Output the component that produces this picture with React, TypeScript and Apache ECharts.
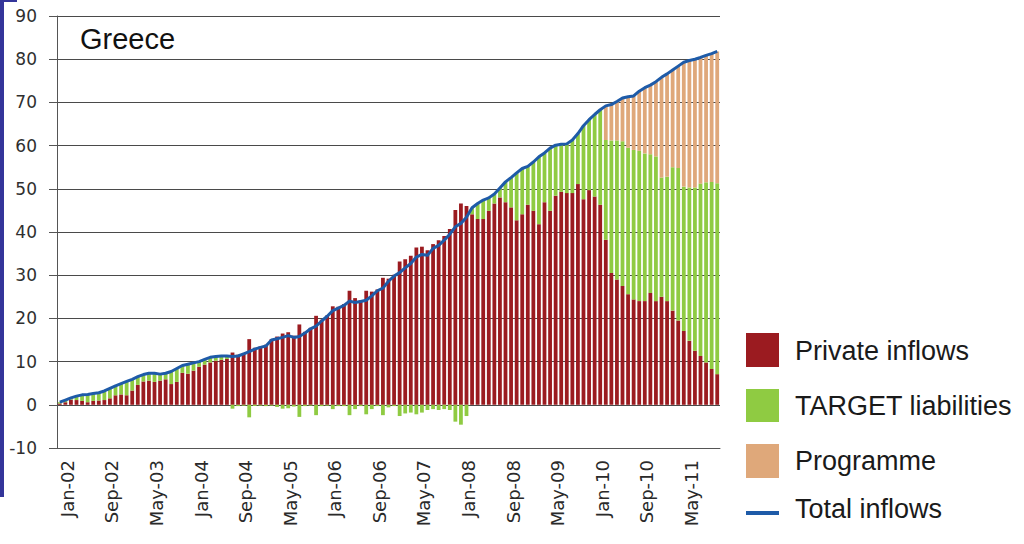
import React, { useEffect, useRef } from "react";
import * as echarts from "echarts";

const MONTH_NAMES = ["Jan", "Feb", "Mar", "Apr", "May", "Jun", "Jul", "Aug", "Sep", "Oct", "Nov", "Dec"];
const YEARS = ["02", "03", "04", "05", "06", "07", "08", "09", "10", "11"];
const categories: string[] = [];
for (const y of YEARS) for (const m of MONTH_NAMES) categories.push(`${m}-${y}`);
const MONTHS = categories.slice(0, 119); // Jan-02 .. Nov-11

const Y_TICKS = { min: -10, max: 90, step: 10 };

const privateInflows = [
  0.3, 0.6, 1.2, 1.1, 0.9, 0.6, 0.9, 1.0, 1.1, 1.5, 2.2, 2.4,
  2.2, 3.3, 4.6, 5.4, 5.6, 5.3, 5.6, 5.9, 4.8, 5.3, 7.4, 7.2,
  7.9, 8.8, 9.3, 9.8, 10.2, 10.4, 10.6, 12.1, 11.6, 12.0, 15.2, 13.2,
  13.5, 13.9, 15.2, 15.8, 16.5, 16.8, 16.0, 18.6, 16.9, 17.8, 20.6, 19.7,
  20.7, 22.8, 22.7, 23.3, 26.4, 24.7, 24.2, 26.4, 26.2, 26.7, 29.4, 29.2,
  30.1, 33.2, 33.7, 34.5, 36.4, 36.6, 35.8, 37.2, 38.1, 39.1, 40.7, 45.1,
  46.6, 46.0, 44.1, 43.0, 43.0, 44.9, 46.6, 48.0, 46.9, 45.7, 42.7, 44.1,
  46.3, 44.9, 41.8, 46.9, 44.9, 48.4, 49.3, 49.0, 49.0, 51.1, 47.6, 49.7,
  48.2, 46.3, 38.2, 30.5, 29.0, 27.5, 25.6, 24.4, 24.0, 24.0, 25.9, 24.0,
  25.0, 24.0, 21.8, 19.5, 17.1, 14.8, 12.5, 11.3, 9.8, 8.3, 7.1,
];

const targetLiabilities = [
  0.3, 0.5, 0.4, 0.9, 1.4, 1.8, 1.7, 1.8, 2.1, 2.3, 2.2, 2.5,
  3.2, 2.6, 1.9, 1.6, 1.7, 2.0, 1.5, 1.4, 2.9, 3.1, 1.7, 2.2,
  1.8, 1.2, 1.2, 1.2, 1.0, 0.9, 0.7, -0.9, -0.3, -0.2, -2.9, -0.3,
  -0.2, -0.3, -0.2, -0.5, -0.9, -0.8, -0.4, -2.8, -0.3, -0.2, -2.4, -0.3,
  -0.2, -1.0, -0.3, -0.3, -2.4, -1.0, -0.3, -2.2, -1.0, -0.3, -2.4, -0.6,
  -0.3, -2.6, -2.0, -1.8, -2.2, -1.8, -1.2, -1.0, -1.2, -1.0, -1.2, -3.9,
  -4.6, -2.6, 1.5, 3.6, 4.4, 3.0, 2.2, 2.2, 4.7, 6.9, 11.0, 10.6,
  8.9, 11.3, 15.6, 11.4, 14.5, 11.7, 11.0, 11.4, 12.3, 11.7, 17.0, 16.3,
  19.0, 22.0, 23.1, 30.7, 32.2, 33.5, 33.9, 34.6, 34.8, 34.2, 32.1, 33.5,
  27.6, 28.8, 33.2, 35.3, 33.4, 35.5, 37.8, 39.9, 41.7, 43.3, 44.2,
];

const programme = [
  0, 0, 0, 0, 0, 0, 0, 0, 0, 0, 0, 0,
  0, 0, 0, 0, 0, 0, 0, 0, 0, 0, 0, 0,
  0, 0, 0, 0, 0, 0, 0, 0, 0, 0, 0, 0,
  0, 0, 0, 0, 0, 0, 0, 0, 0, 0, 0, 0,
  0, 0, 0, 0, 0, 0, 0, 0, 0, 0, 0, 0,
  0, 0, 0, 0, 0, 0, 0, 0, 0, 0, 0, 0,
  0, 0, 0, 0, 0, 0, 0, 0, 0, 0, 0, 0,
  0, 0, 0, 0, 0, 0, 0, 0, 0, 0, 0, 0,
  0, 0, 7.9, 8.3, 9.0, 10.0, 11.8, 12.5, 13.8, 15.2, 16.0, 17.3,
  23.2, 23.8, 22.5, 23.6, 28.8, 29.4, 29.7, 29.2, 29.4, 29.7, 30.5,
];

const totalInflows = [
  0.6, 1.1, 1.6, 2.0, 2.3, 2.4, 2.6, 2.8, 3.2, 3.8, 4.4, 4.9,
  5.4, 5.9, 6.5, 7.0, 7.3, 7.3, 7.1, 7.3, 7.7, 8.4, 9.1, 9.4,
  9.7, 10.0, 10.5, 11.0, 11.2, 11.3, 11.3, 11.2, 11.3, 11.8, 12.3, 12.9,
  13.3, 13.6, 15.0, 15.3, 15.6, 16.0, 15.6, 15.8, 16.6, 17.6, 18.2, 19.4,
  20.5, 21.8, 22.4, 23.0, 24.0, 23.7, 23.9, 24.2, 25.2, 26.4, 27.0, 28.6,
  29.8, 30.6, 31.7, 32.7, 34.2, 34.8, 34.6, 36.2, 36.9, 38.1, 39.5, 41.2,
  42.0, 43.4, 45.6, 46.6, 47.4, 47.9, 48.8, 50.2, 51.6, 52.6, 53.7, 54.7,
  55.2, 56.2, 57.4, 58.3, 59.4, 60.1, 60.3, 60.4, 61.3, 62.8, 64.6, 66.0,
  67.2, 68.3, 69.2, 69.5, 70.2, 71.0, 71.3, 71.5, 72.6, 73.4, 74.0, 74.8,
  75.8, 76.6, 77.5, 78.4, 79.3, 79.7, 80.0, 80.4, 80.9, 81.3, 81.8,
];

const LEGEND_LABELS = ["Private inflows", "TARGET liabilities", "Programme", "Total inflows"];
const TITLE = "Greece";

const COLORS = {
  private: "#9B1B20",
  target: "#8FCB42",
  programme: "#DFA87A",
  total: "#1E5BA8",
};

export default function App() {
  const ref = useRef<HTMLDivElement>(null);

  useEffect(() => {
    if (!ref.current) return;
    const chart = echarts.init(ref.current, null, { renderer: "svg" });
    const legendFont = "Liberation Sans, Arial, sans-serif";
    const legendText = (text: string, y: number) => ({
      type: "text",
      left: 795,
      top: y - 16,
      style: { text, fontSize: 27, fontFamily: legendFont, fill: "#1a1a1a" },
    });
    const option: any = {
      animation: false,
      grid: { left: 57, right: 304, top: 16, bottom: 96, containLabel: false },
      xAxis: {
        type: "category",
        data: MONTHS,
        boundaryGap: true,
        axisLine: { onZero: false, lineStyle: { color: "#555", width: 1 } },
        axisTick: { show: false },
        axisLabel: {
          interval: 7,
          rotate: 90,
          margin: 12,
          fontSize: 18,
          lineHeight: 15,
          verticalAlign: "top",
          fontFamily: "DejaVu Sans, sans-serif",
          color: "#2a2a2a",
        },
        splitLine: { show: false },
      },
      yAxis: {
        type: "value",
        min: Y_TICKS.min,
        max: Y_TICKS.max,
        interval: Y_TICKS.step,
        axisLine: { show: true, lineStyle: { color: "#555", width: 1 } },
        axisTick: { show: true, length: 8, inside: false, lineStyle: { color: "#555" } },
        axisLabel: {
          margin: 20,
          fontSize: 17,
          fontFamily: "DejaVu Sans, sans-serif",
          color: "#2f2f2f",
        },
        splitLine: { show: true, lineStyle: { color: "#4a4a4a", width: 1 } },
      },
      series: [
        {
          name: LEGEND_LABELS[0],
          type: "bar",
          stack: "inflows",
          data: privateInflows,
          barCategoryGap: "32%",
          itemStyle: { color: COLORS.private },
        },
        {
          name: LEGEND_LABELS[1],
          type: "bar",
          stack: "inflows",
          data: targetLiabilities,
          itemStyle: { color: COLORS.target },
        },
        {
          name: LEGEND_LABELS[2],
          type: "bar",
          stack: "inflows",
          data: programme,
          itemStyle: { color: COLORS.programme },
        },
        {
          name: LEGEND_LABELS[3],
          type: "line",
          data: totalInflows,
          symbol: "none",
          z: 5,
          lineStyle: { color: COLORS.total, width: 3, join: "round" },
        },
      ],
      graphic: [
        { type: "rect", shape: { x: 0, y: 0, width: 4, height: 497 }, style: { fill: "#34359a" } },
        { type: "rect", shape: { x: 0, y: 0, width: 17, height: 2 }, style: { fill: "#34359a" } },
        {
          type: "text",
          left: 80,
          top: 24,
          style: { text: TITLE, fontSize: 29, fontFamily: legendFont, fill: "#111" },
        },
        { type: "rect", shape: { x: 746, y: 333, width: 33, height: 34 }, style: { fill: COLORS.private } },
        legendText(LEGEND_LABELS[0], 353),
        { type: "rect", shape: { x: 746, y: 389, width: 33, height: 33 }, style: { fill: COLORS.target } },
        legendText(LEGEND_LABELS[1], 408),
        { type: "rect", shape: { x: 746, y: 444, width: 33, height: 34 }, style: { fill: COLORS.programme } },
        legendText(LEGEND_LABELS[2], 463),
        { type: "rect", shape: { x: 746, y: 511, width: 33, height: 4 }, style: { fill: COLORS.total } },
        legendText(LEGEND_LABELS[3], 511),
      ],
    };
    chart.setOption(option);
    return () => chart.dispose();
  }, []);

  return (
    <div
      ref={ref}
      style={{ position: "absolute", left: 0, top: 0, width: 1024, height: 544, background: "#fff" }}
    />
  );
}
